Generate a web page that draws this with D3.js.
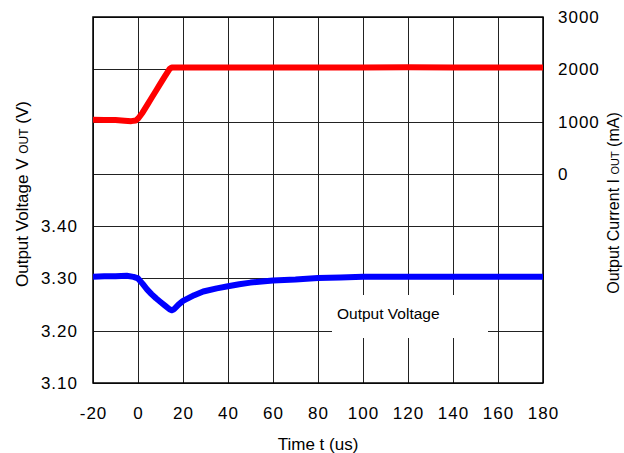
<!DOCTYPE html>
<html>
<head>
<meta charset="utf-8">
<script src="https://cdn.jsdelivr.net/npm/d3@7"></script>
<style>
  html, body { margin: 0; padding: 0; background: #fff; }
  svg { display: block; }
  text { font-family: "Liberation Sans", Arial, sans-serif; fill: #000; }
</style>
</head>
<body>
<svg id="chart" width="624" height="453"></svg>
<script>
// ---- data ----
const timeTicks = [-20, 0, 20, 40, 60, 80, 100, 120, 140, 160, 180];
const voltageTicks = [3.10, 3.20, 3.30, 3.40];
const voltageGrid = [3.1, 3.2, 3.3, 3.4, 3.5, 3.6, 3.7, 3.8];
const currentTicks = [0, 1000, 2000, 3000];

// Output current (mA) vs time (us)
const currentT = [-20, -15, -10, -6, -3, -1, 0, 2, 4, 6, 8, 10, 12, 14, 15, 20, 40, 60, 80, 100, 120, 140, 160, 180];
const currentV = [1035, 1032, 1028, 1015, 1008, 1020, 1055, 1170, 1310, 1450, 1590, 1730, 1870, 2005, 2035, 2035, 2035, 2035, 2035, 2035, 2038, 2035, 2035, 2035];

// Output voltage (V) vs time (us)
const voltageT = [-20, -15, -10, -5, -2, 0, 2, 4, 6, 8, 10, 12, 14, 15, 16, 18, 20, 25, 29, 35, 40, 45, 50, 55, 60, 70, 80, 90, 100, 120, 140, 160, 180];
const voltageV = [3.303, 3.304, 3.304, 3.305, 3.303, 3.300, 3.290, 3.279, 3.270, 3.262, 3.255, 3.248, 3.241, 3.239, 3.241, 3.250, 3.257, 3.268, 3.275, 3.281, 3.285, 3.289, 3.292, 3.294, 3.296, 3.298, 3.301, 3.302, 3.303, 3.303, 3.303, 3.303, 3.303];

const labelText = "Output Voltage";

// ---- chart ----
const svg = d3.select("#chart");
const x = d3.scaleLinear().domain([-20, 180]).range([93, 543]);
const yV = d3.scaleLinear().domain([3.1, 3.8]).range([383, 17]);
const yI = d3.scaleLinear().domain([-4000, 3000]).range([383, 17]);

const grid = svg.append("g").attr("stroke", "#222").attr("stroke-width", 1);
grid.selectAll("line.v").data(timeTicks).join("line")
  .attr("x1", d => Math.round(x(d)) + 0.5).attr("x2", d => Math.round(x(d)) + 0.5)
  .attr("y1", yV(3.8)).attr("y2", yV(3.1));
grid.selectAll("line.h").data(voltageGrid).join("line")
  .attr("y1", d => Math.round(yV(d)) + 0.5).attr("y2", d => Math.round(yV(d)) + 0.5)
  .attr("x1", x(-20)).attr("x2", x(180));

// border
svg.append("rect")
  .attr("x", x(-20)).attr("y", yV(3.8))
  .attr("width", x(180) - x(-20)).attr("height", yV(3.1) - yV(3.8))
  .attr("fill", "none").attr("stroke", "#000").attr("stroke-width", 1.5);

// label box
svg.append("rect").attr("x", 332).attr("y", 295).attr("width", 156).attr("height", 43).attr("fill", "#fff");
svg.append("text").attr("x", 337).attr("y", 319).attr("font-size", "15.5px").text(labelText);

// lines
const curData = currentT.map((t, i) => [t, currentV[i]]);
const voltData = voltageT.map((t, i) => [t, voltageV[i]]);
svg.append("path").datum(curData)
  .attr("d", d3.line().x(d => x(d[0])).y(d => yI(d[1])))
  .attr("fill", "none").attr("stroke", "#ff0000").attr("stroke-width", 6)
  .attr("stroke-linejoin", "round");
svg.append("path").datum(voltData)
  .attr("d", d3.line().x(d => x(d[0])).y(d => yV(d[1])))
  .attr("fill", "none").attr("stroke", "#0000ff").attr("stroke-width", 6)
  .attr("stroke-linejoin", "round");

// axes
function styleAxis(g) {
  g.select(".domain").remove();
  g.selectAll("text").attr("font-size", "17px").attr("letter-spacing", "1px")
    .attr("font-family", "'Liberation Sans', Arial, sans-serif").attr("fill", "#000");
}
svg.append("g").attr("transform", "translate(93,0)")
  .call(d3.axisLeft(yV).tickValues(voltageTicks).tickSize(0).tickPadding(15).tickFormat(d => d.toFixed(2)))
  .call(styleAxis);
svg.append("g").attr("transform", "translate(543,0)")
  .call(d3.axisRight(yI).tickValues(currentTicks).tickSize(0).tickPadding(15).tickFormat(d => String(d)))
  .call(styleAxis);
svg.append("g").attr("transform", "translate(0,383)")
  .call(d3.axisBottom(x).tickValues(timeTicks).tickSize(0).tickPadding(24).tickFormat(d => String(d)))
  .call(styleAxis);

// titles
svg.append("text").attr("x", 318).attr("y", 450).attr("text-anchor", "middle")
  .attr("font-size", "17px").text("Time t (us)");

const lt = svg.append("text").attr("transform", "translate(28,194) rotate(-90)")
  .attr("text-anchor", "middle").attr("font-size", "17px");
lt.append("tspan").text("Output Voltage V ");
lt.append("tspan").attr("font-size", "12px").text("OUT");
lt.append("tspan").text(" (V)");

const rt = svg.append("text").attr("transform", "translate(619,203) rotate(-90)")
  .attr("text-anchor", "middle").attr("font-size", "16px");
rt.append("tspan").text("Output Current I ");
rt.append("tspan").attr("font-size", "11px").text("OUT");
rt.append("tspan").text(" (mA)");
</script>
</body>
</html>
